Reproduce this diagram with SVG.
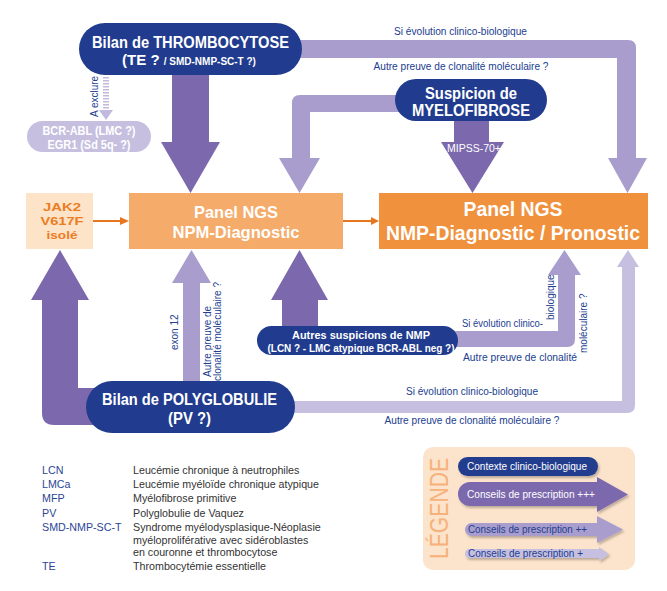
<svg xmlns="http://www.w3.org/2000/svg" width="667" height="591" viewBox="0 0 667 591">
<defs>
<style>
text{font-family:"Liberation Sans",Arial,sans-serif}
.node{fill:#213c8e}
.nt{fill:#fff;font-weight:bold;text-anchor:middle}
.p3{fill:#7c69ad}
.p2{fill:#a99dce}
.p1{fill:#c6bfe0}
.lbl{fill:#22408f;font-size:10px}
.mid{text-anchor:middle}
.org{stroke:#e8761e;stroke-width:2}
.abbr{fill:#2a4596;font-size:10.7px}
.desc{fill:#333;font-size:10.7px}
.lg{font-size:10px}
.jak{fill:#ec7c22;font-weight:bold;text-anchor:middle;font-size:11.8px}
</style>
<filter id="sh" x="-10%" y="-30%" width="130%" height="180%"><feDropShadow dx="1.5" dy="2" stdDeviation="1.2" flood-color="#000" flood-opacity="0.25"/></filter>
</defs>
<rect width="667" height="591" fill="#fff"/>

<g id="connectors">
 <path class="p2" d="M290,40 H628 Q636,40 636,48 V158 H647 L627.5,193 L608,158 H617 V58 H290 Z"/>
 <path class="p2" d="M410,95 H300 Q292,95 292,103 V158 H279 L299.5,193 L320,158 H310 V112 H410 Z"/>
 <path class="p3" d="M454,110 H489 V142 H504 L472.5,193 L441,142 H454 Z"/>
 <path class="p3" d="M172,65 H209 V142 H220 L190.5,193 L161,142 H172 Z"/>
 <line x1="106" y1="77" x2="106" y2="110" stroke="#c1b9de" stroke-width="6" stroke-dasharray="1.6 1.4"/>
 <polygon fill="#c1b9de" points="99,110 113,110 106,120"/>
 <line class="org" x1="93" y1="221" x2="121" y2="221"/>
 <polygon fill="#e8761e" points="120,217 129,221 120,225"/>
 <line class="org" x1="343" y1="221" x2="372" y2="221"/>
 <polygon fill="#e8761e" points="371,217 379,221 371,225"/>
 <path class="p2" d="M183,390 V283 H172 L191.5,250 L211,283 H200 V390 Z"/>
 <path class="p3" d="M282,335 V300 H271 L299.5,250 L328,300 H318 V335 Z"/>
 <path class="p2" d="M440,331 H558 V275 H548 L564.5,250 L581,275 H575 V339 Q575,347 567,347 H440 Z"/>
 <path class="p3" d="M100,388 H78 V300 H89 L60,250 L31,300 H42 V413 Q42,425 54,425 H100 Z"/>
 <path class="p1" d="M280,401 H622 V267 H617 L628,250 L639,267 H635 V405 Q635,413 627,413 H280 Z"/>

 <text class="lbl mid" x="460.5" y="35" textLength="133" lengthAdjust="spacingAndGlyphs">Si évolution clinico-biologique</text>
 <text class="lbl mid" x="461" y="69.5" textLength="175" lengthAdjust="spacingAndGlyphs">Autre preuve de clonalité moléculaire ?</text>
 <text fill="#fff" font-size="10.5" x="447" y="152">MIPSS-70+</text>
 <text class="lbl" font-size="9.5" transform="translate(98,117) rotate(-90)">A exclure</text>
 <text class="lbl" font-size="10.5" transform="translate(178,350) rotate(-90)">exon 12</text>
 <text class="lbl" font-size="9.5" transform="translate(211,377) rotate(-90)">Autre preuve de</text>
 <text class="lbl" font-size="9.3" transform="translate(221,381) rotate(-90)">clonalité moléculaire ?</text>
 <text class="lbl" font-size="9.5" x="462" y="327" textLength="81" lengthAdjust="spacingAndGlyphs">Si évolution clinico-</text>
 <text class="lbl" transform="translate(554,320) rotate(-90)">biologique</text>
 <text class="lbl" x="463" y="361" textLength="114" lengthAdjust="spacingAndGlyphs">Autre preuve de clonalité</text>
 <text class="lbl" transform="translate(587,353) rotate(-90)">moléculaire ?</text>
 <text class="lbl mid" x="472" y="395" textLength="132" lengthAdjust="spacingAndGlyphs">Si évolution clinico-biologique</text>
 <text class="lbl mid" x="472" y="424" textLength="175" lengthAdjust="spacingAndGlyphs">Autre preuve de clonalité moléculaire ?</text>
</g>

<g id="thrombocytose">
 <rect class="node" x="79" y="23" width="223" height="52" rx="26"/>
 <text class="nt" x="190.5" y="47.5" font-size="16" textLength="197" lengthAdjust="spacingAndGlyphs">Bilan de THROMBOCYTOSE</text>
 <text class="nt" x="189" y="65"><tspan font-size="15">(TE ? </tspan><tspan font-size="10">/ SMD-NMP-SC-T ?)</tspan></text>
</g>

<g id="myelofibrose">
 <rect class="node" x="395" y="79" width="152" height="42" rx="21"/>
 <text class="nt" x="471" y="98.5" font-size="16" textLength="92" lengthAdjust="spacingAndGlyphs">Suspicion de</text>
 <text class="nt" x="471" y="116" font-size="16" textLength="118" lengthAdjust="spacingAndGlyphs">MYELOFIBROSE</text>
</g>

<g id="bcr-abl">
 <rect fill="#c6bfe0" x="27" y="121" width="124" height="31" rx="15.5"/>
 <text class="nt" x="89" y="135" font-size="12" textLength="93" lengthAdjust="spacingAndGlyphs">BCR-ABL (LMC ?)</text>
 <text class="nt" x="89" y="149" font-size="12" textLength="83" lengthAdjust="spacingAndGlyphs">EGR1 (Sd 5q- ?)</text>
</g>

<g id="jak2">
 <rect fill="#fde3c8" x="26" y="193" width="67" height="56"/>
 <text class="jak" x="62" y="211" textLength="38" lengthAdjust="spacingAndGlyphs">JAK2</text>
 <text class="jak" x="62" y="225" textLength="43" lengthAdjust="spacingAndGlyphs">V617F</text>
 <text class="jak" x="62" y="239" textLength="31" lengthAdjust="spacingAndGlyphs">isolé</text>
</g>

<g id="panel-npm">
 <rect fill="#f5ab6a" x="129" y="193" width="214" height="56"/>
 <text class="nt" x="236" y="217.5" font-size="16.5" textLength="84" lengthAdjust="spacingAndGlyphs">Panel NGS</text>
 <text class="nt" x="236" y="238" font-size="16.5" textLength="127" lengthAdjust="spacingAndGlyphs">NPM-Diagnostic</text>
</g>

<g id="panel-nmp">
 <rect fill="#f0913d" x="379" y="193" width="269" height="56"/>
 <text class="nt" x="513" y="216" font-size="19.4" textLength="99" lengthAdjust="spacingAndGlyphs">Panel NGS</text>
 <text class="nt" x="513" y="240" font-size="19.4" textLength="254" lengthAdjust="spacingAndGlyphs">NMP-Diagnostic / Pronostic</text>
</g>

<g id="autres">
 <rect class="node" x="257" y="326" width="201" height="29" rx="14.5"/>
 <text class="nt" x="361" y="339.3" font-size="11" textLength="138" lengthAdjust="spacingAndGlyphs">Autres suspicions de NMP</text>
 <text class="nt" x="361" y="351.7" font-size="11" textLength="187" lengthAdjust="spacingAndGlyphs">(LCN ? - LMC atypique BCR-ABL neg ?)</text>
</g>

<g id="polyglobulie">
 <rect class="node" x="86" y="381" width="209" height="52" rx="26"/>
 <text class="nt" x="189.5" y="405" font-size="16" textLength="175" lengthAdjust="spacingAndGlyphs">Bilan de POLYGLOBULIE</text>
 <text class="nt" x="189.5" y="424" font-size="16" textLength="43" lengthAdjust="spacingAndGlyphs">(PV ?)</text>
</g>

<g id="abbreviations">
 <text class="abbr" x="42" y="474">LCN</text>
 <text class="desc" x="133" y="474">Leucémie chronique à neutrophiles</text>
 <text class="abbr" x="42" y="488">LMCa</text>
 <text class="desc" x="133" y="488">Leucémie myéloïde chronique atypique</text>
 <text class="abbr" x="42" y="502">MFP</text>
 <text class="desc" x="133" y="502">Myélofibrose primitive</text>
 <text class="abbr" x="42" y="516.5">PV</text>
 <text class="desc" x="133" y="516.5">Polyglobulie de Vaquez</text>
 <text class="abbr" x="42" y="531">SMD-NMP-SC-T</text>
 <text class="desc" x="133" y="531">Syndrome myélodysplasique-Néoplasie</text>
 <text class="desc" x="133" y="543.5">myéloproliférative avec sidéroblastes</text>
 <text class="desc" x="133" y="556">en couronne et thrombocytose</text>
 <text class="abbr" x="42" y="569.5">TE</text>
 <text class="desc" x="133" y="569.5">Thrombocytémie essentielle</text>
</g>

<g id="legend">
 <rect fill="#fce3cb" x="423" y="447" width="212" height="123" rx="10"/>
 <text fill="#f6b27a" font-size="25" transform="translate(448,559) rotate(-90)" textLength="101" lengthAdjust="spacingAndGlyphs">LÉGENDE</text>
 <rect class="node" x="458" y="457" width="140" height="19" rx="9.5" filter="url(#sh)"/>
 <text class="lg" fill="#fff" x="467" y="470" textLength="120" lengthAdjust="spacingAndGlyphs">Contexte clinico-biologique</text>
 <path class="p3" filter="url(#sh)" d="M470,482 H597 V477 L628,494.5 L597,512 V506 H470 A12,12 0 0 1 470,482 Z"/>
 <text class="lg" fill="#fff" x="467" y="498" textLength="128" lengthAdjust="spacingAndGlyphs">Conseils de prescription +++</text>
 <path class="p2" filter="url(#sh)" d="M471.5,523 H597 V516 L623,529.5 L597,543 V536 H471.5 A6.5,6.5 0 0 1 471.5,523 Z"/>
 <text class="lg" fill="#22408f" x="468" y="533" textLength="119" lengthAdjust="spacingAndGlyphs">Conseils de prescription ++</text>
 <path class="p1" filter="url(#sh)" d="M469.5,549 H599 V547 L609,554 L599,561 V558 H469.5 A4.5,4.5 0 0 1 469.5,549 Z"/>
 <text class="lg" fill="#22408f" x="468" y="557" textLength="115" lengthAdjust="spacingAndGlyphs">Conseils de prescription +</text>
</g>
</svg>
